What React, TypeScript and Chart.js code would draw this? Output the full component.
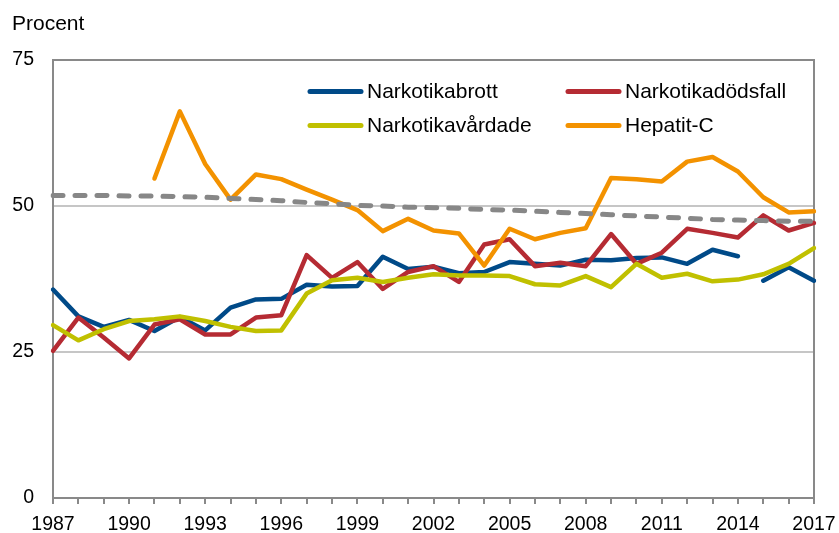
import React, { useEffect, useRef } from 'react';
import { Chart, registerables } from 'chart.js';

Chart.register(...registerables);

const years = [
  1987, 1988, 1989, 1990, 1991, 1992, 1993, 1994, 1995, 1996,
  1997, 1998, 1999, 2000, 2001, 2002, 2003, 2004, 2005, 2006,
  2007, 2008, 2009, 2010, 2011, 2012, 2013, 2014, 2015, 2016, 2017,
];

const narkotikabrott = [
  35.7, 31.1, 29.3, 30.5, 28.6, 31.0, 28.7, 32.6, 34.0, 34.1,
  36.5, 36.2, 36.3, 41.3, 39.2, 39.6, 38.5, 38.7, 40.4, 40.1,
  39.8, 40.8, 40.7, 41.1, 41.2, 40.1, 42.5, 41.4, 37.2, 39.5, 37.2,
];
// series break (new method) between 2014 and 2015
const narkotikabrottBreakYear = 2014;

const narkotikadodsfall = [
  25.2, 30.9, 27.5, 23.9, 29.7, 30.6, 28.0, 28.0, 30.9, 31.3,
  41.6, 37.7, 40.4, 35.8, 38.7, 39.7, 37.0, 43.4, 44.3, 39.7,
  40.3, 39.7, 45.2, 40.1, 42.0, 46.1, 45.4, 44.6, 48.4, 45.8, 47.1,
];

const narkotikavardade = [
  29.6, 27.0, 28.9, 30.3, 30.6, 31.1, 30.3, 29.3, 28.6, 28.7,
  35.0, 37.3, 37.7, 37.0, 37.7, 38.3, 38.1, 38.1, 38.0, 36.6,
  36.4, 38.0, 36.1, 40.1, 37.7, 38.4, 37.1, 37.4, 38.3, 40.1, 42.8,
];

const hepatitC = [
  null, null, null, null, 54.7, 66.2, 57.2, 51.1, 55.4, 54.6,
  52.8, 51.1, 49.3, 45.7, 47.8, 45.8, 45.3, 39.8, 46.1, 44.3,
  45.4, 46.2, 54.8, 54.6, 54.2, 57.6, 58.4, 55.9, 51.5, 48.9, 49.1,
];

const trend = [
  51.8, 51.8, 51.8, 51.7, 51.7, 51.6, 51.5, 51.3, 51.1, 50.9,
  50.6, 50.4, 50.1, 50.0, 49.8, 49.7, 49.6, 49.4, 49.3, 49.1,
  48.9, 48.7, 48.5, 48.3, 48.1, 47.9, 47.7, 47.6, 47.5, 47.4, 47.4,
];

const yTicks = [0, 25, 50, 75];
const xLabelEvery = 3;

const FONT = "'Liberation Sans', Arial, sans-serif";
const AXIS_GRAY = '#898989';
const GRID_GRAY = '#c6c6c6';

const legendItems = [
  { label: 'Narkotikabrott', color: '#004a88', col: 0, row: 0 },
  { label: 'Narkotikadödsfall', color: '#b52b33', col: 1, row: 0 },
  { label: 'Narkotikavårdade', color: '#c0c000', col: 0, row: 1 },
  { label: 'Hepatit-C', color: '#f39200', col: 1, row: 1 },
];

export default function App() {
  const ref = useRef<HTMLCanvasElement>(null);

  useEffect(() => {
    document.body.style.margin = '0';
    const breakIdx = years.indexOf(narkotikabrottBreakYear);

    const extras = {
      id: 'extras',
      beforeDatasetsDraw(chart: any) {
        const { ctx, chartArea } = chart;
        ctx.save();
        ctx.strokeStyle = AXIS_GRAY;
        ctx.lineWidth = 2;
        ctx.beginPath();
        ctx.moveTo(chartArea.right, chartArea.top - 1);
        ctx.lineTo(chartArea.right, chartArea.bottom + 6);
        ctx.stroke();
        ctx.restore();
      },
      afterDraw(chart: any) {
        const { ctx } = chart;
        ctx.save();
        // Title
        ctx.fillStyle = '#000';
        ctx.font = `21px ${FONT}`;
        ctx.textBaseline = 'alphabetic';
        ctx.textAlign = 'left';
        ctx.fillText('Procent', 12, 30);
        // Legend
        const colX = [308, 566];
        const rowY = [91.5, 125.5];
        legendItems.forEach((it) => {
          const x = colX[it.col];
          const y = rowY[it.row];
          ctx.strokeStyle = it.color;
          ctx.lineWidth = 5;
          ctx.lineCap = 'round';
          ctx.beginPath();
          ctx.moveTo(x + 2, y);
          ctx.lineTo(x + 53, y);
          ctx.stroke();
          ctx.fillStyle = '#000';
          ctx.font = `21px ${FONT}`;
          ctx.textBaseline = 'middle';
          ctx.fillText(it.label, x + 59, y + 0.5);
        });
        ctx.restore();
      },
    };

    const chart = new Chart(ref.current as HTMLCanvasElement, {
      type: 'line',
      data: {
        labels: years.map(String),
        datasets: [
          {
            label: legendItems[0].label,
            data: narkotikabrott,
            borderColor: legendItems[0].color,
            order: 5,
            segment: {
              borderColor: (c: any) => (c.p0DataIndex === breakIdx ? 'rgba(0,0,0,0)' : undefined),
            },
          },
          {
            label: legendItems[1].label,
            data: narkotikadodsfall,
            borderColor: legendItems[1].color,
            order: 4,
          },
          {
            label: legendItems[2].label,
            data: narkotikavardade,
            borderColor: legendItems[2].color,
            order: 3,
          },
          {
            label: legendItems[3].label,
            data: hepatitC,
            borderColor: legendItems[3].color,
            order: 2,
          },
          {
            label: 'Trend',
            data: trend,
            borderColor: '#878787',
            borderDash: [10, 12],
            borderCapStyle: 'round',
            borderWidth: 5,
            order: 1,
          },
        ] as any,
      },
      options: {
        animation: false,
        responsive: false,
        layout: { padding: { top: 60, right: 25, left: 0, bottom: 0 } },
        plugins: { legend: { display: false }, tooltip: { enabled: false }, title: { display: false } },
        elements: {
          point: { radius: 0 },
          line: { tension: 0, borderWidth: 4.5, borderJoinStyle: 'round', borderCapStyle: 'round', fill: false },
        },
        scales: {
          x: {
            type: 'category',
            offset: false,
            grid: { drawOnChartArea: false, drawTicks: true, tickLength: 6, color: AXIS_GRAY, lineWidth: 2 },
            border: { color: AXIS_GRAY, width: 2 },
            ticks: {
              autoSkip: false,
              maxRotation: 0,
              minRotation: 0,
              padding: 9,
              color: '#000',
              font: { family: FONT, size: 19.5 },
              callback: (_v: any, i: number) => (i % xLabelEvery === 0 ? String(years[i]) : ''),
            },
            afterFit: (s: any) => { s.height = 35; s.paddingLeft = 0; s.paddingRight = 0; },
          },
          y: {
            min: yTicks[0],
            max: yTicks[yTicks.length - 1],
            afterBuildTicks: (s: any) => { s.ticks = yTicks.map((v) => ({ value: v })); },
            grid: {
              drawTicks: false,
              color: (c: any) => (c.tick && (c.tick.value === 75 || c.tick.value === 0) ? AXIS_GRAY : GRID_GRAY),
              lineWidth: 2,
            },
            border: { color: AXIS_GRAY, width: 2 },
            ticks: { padding: 19, color: '#000', font: { family: FONT, size: 19.5 } },
            afterFit: (s: any) => { s.width = 53; s.paddingTop = 0; s.paddingBottom = 0; },
          },
        },
      } as any,
      plugins: [extras],
    });
    return () => chart.destroy();
  }, []);

  return <canvas ref={ref} width={839} height={533} style={{ display: 'block' }} />;
}
